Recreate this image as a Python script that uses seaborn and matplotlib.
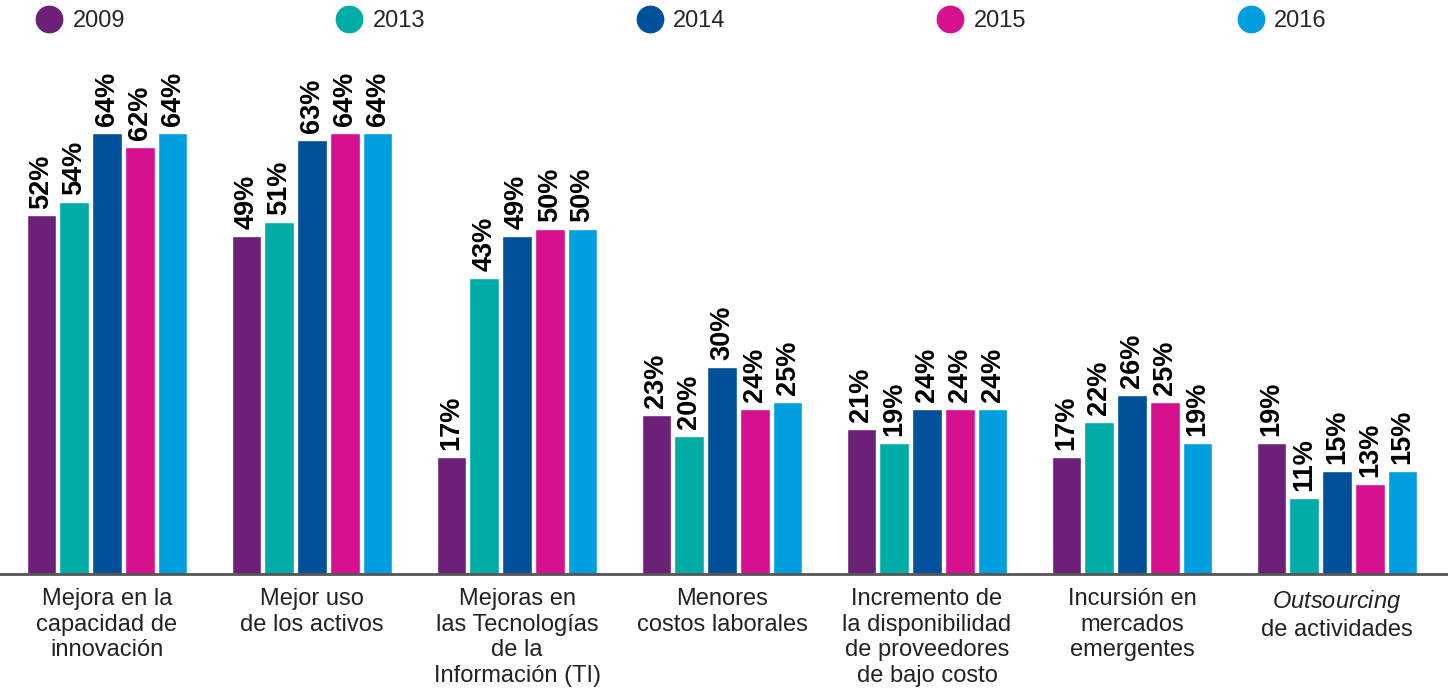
import matplotlib.pyplot as plt
import seaborn as sns
import pandas as pd
from matplotlib.lines import Line2D

categories = [
    "Mejora en la\ncapacidad de\ninnovación",
    "Mejor uso\nde los activos",
    "Mejoras en\nlas Tecnologías\nde la\nInformación (TI)",
    "Menores\ncostos laborales",
    "Incremento de\nla disponibilidad\nde proveedores\nde bajo costo",
    "Incursión en\nmercados\nemergentes",
    "$\\it{Outsourcing}$\nde actividades",
]
years = ["2009", "2013", "2014", "2015", "2016"]
v2009 = [52, 49, 17, 23, 21, 17, 19]
v2013 = [54, 51, 43, 20, 19, 22, 11]
v2014 = [64, 63, 49, 30, 24, 26, 15]
v2015 = [62, 64, 50, 24, 24, 25, 13]
v2016 = [64, 64, 50, 25, 24, 19, 15]
colors = ["#6d2077", "#00ada6", "#00509a", "#d6118f", "#009fdf"]

rows = []
for year, vals in zip(years, [v2009, v2013, v2014, v2015, v2016]):
    for cat, v in zip(categories, vals):
        rows.append({"cat": cat, "year": year, "value": v})
df = pd.DataFrame(rows)

sns.set_style("white")
plt.rcParams["font.family"] = ["Liberation Sans", "DejaVu Sans"]
plt.rcParams["mathtext.fontset"] = "custom"
plt.rcParams["mathtext.it"] = "Liberation Sans:italic"
plt.rcParams["mathtext.rm"] = "Liberation Sans"

fig = plt.figure(figsize=(14.48, 6.88), dpi=100)
ax = fig.add_axes([0, (688 - 574) / 688, 1, 524 / 688])

sns.barplot(data=df, x="cat", y="value", hue="year", palette=colors,
            order=categories, hue_order=years, width=0.8, gap=0.1,
            saturation=1, legend=False, ax=ax)

for cont in ax.containers:
    ax.bar_label(cont, labels=[f"{int(v)}%" for v in cont.datavalues],
                 rotation=90, padding=5, fontsize=19.5, fontweight="bold",
                 color="#000000")

ax.set_xlim(-107 / 205, 6 + (1448 - 1337) / 205)
ax.set_ylim(0, 76)
ax.set_xlabel("")
ax.set_ylabel("")
ax.set_yticks([])
ax.tick_params(axis="x", length=0, pad=10, labelsize=17, labelcolor="#222222")
for lbl in ax.get_xticklabels():
    lbl.set_linespacing(1.22)
for side in ["left", "right", "top"]:
    ax.spines[side].set_visible(False)
ax.spines["bottom"].set_color("#555555")
ax.spines["bottom"].set_linewidth(2)

handles = [Line2D([], [], marker="o", linestyle="", markersize=19,
                  markerfacecolor=c, markeredgecolor=c) for c in colors]
fig.legend(handles, years, ncol=5, loc="center left",
           bbox_to_anchor=(0.024, 1 - 21 / 688), frameon=False,
           fontsize=17, handletextpad=0.4, columnspacing=8.9,
           handlelength=1.2, borderaxespad=0, borderpad=0)

fig.savefig("out.png", dpi=100)
